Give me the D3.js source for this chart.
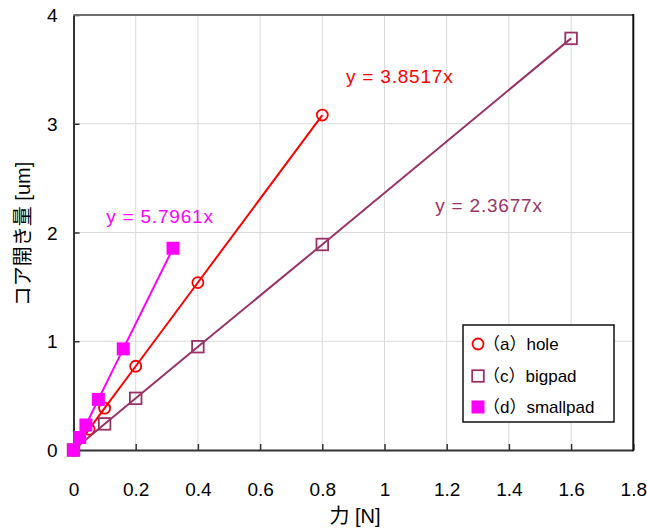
<!DOCTYPE html>
<html><head><meta charset="utf-8">
<script src="https://cdn.jsdelivr.net/npm/d3@7"></script>
<style>
html,body{margin:0;padding:0;background:#fff;}
svg text{font-family:"Liberation Sans","Noto Sans CJK JP",sans-serif;}
</style>
</head><body>
<svg id="chart" width="647" height="529"></svg>
<script>
// ---- data ----
const seriesNames = ["（a）hole", "（c）bigpad", "（d）smallpad"];
const holeX = [0, 0.05, 0.1, 0.2, 0.4, 0.8];
const holeY = [0, 0.19, 0.385, 0.77, 1.54, 3.08];
const bigpadX = [0, 0.1, 0.2, 0.4, 0.8, 1.6];
const bigpadY = [0, 0.24, 0.475, 0.95, 1.89, 3.785];
const smallpadX = [0, 0.02, 0.04, 0.08, 0.16, 0.32];
const smallpadY = [0, 0.115, 0.23, 0.465, 0.93, 1.855];
const equations = ["y = 3.8517x", "y = 2.3677x", "y = 5.7961x"];
const xTicks = [0, 0.2, 0.4, 0.6, 0.8, 1, 1.2, 1.4, 1.6, 1.8];
const xTickLabels = ["0", "0.2", "0.4", "0.6", "0.8", "1", "1.2", "1.4", "1.6", "1.8"];
const yTicks = [0, 1, 2, 3, 4];
const yTickLabels = ["0", "1", "2", "3", "4"];
const xTitle = "力 [N]";
const yTitle = "コア開き量 [um]";

// ---- layout ----
const svg = d3.select("#chart");
const L = 73.5, R = 633.3, T = 15, B = 450;
const x = d3.scaleLinear().domain([0, 1.8]).range([L, R]);
const y = d3.scaleLinear().domain([0, 4]).range([B, T]);

const colors = ["#FF0000", "#993366", "#FF00FF"];

// gridlines
svg.append("g").selectAll("line").data(xTicks.slice(1, -1)).join("line")
  .attr("x1", d => x(d)).attr("x2", d => x(d)).attr("y1", T).attr("y2", B)
  .attr("stroke", "#d9d9d9").attr("stroke-width", 1);
svg.append("g").selectAll("line").data(yTicks.slice(1, -1)).join("line")
  .attr("x1", L).attr("x2", R).attr("y1", d => y(d)).attr("y2", d => y(d))
  .attr("stroke", "#d9d9d9").attr("stroke-width", 1);

// axes with inward ticks
const xAxis = d3.axisBottom(x).tickValues(xTicks).tickSizeInner(-6).tickSizeOuter(0)
  .tickFormat((d, i) => xTickLabels[i]).tickPadding(30);
const gx = svg.append("g").attr("transform", `translate(0,${B})`).call(xAxis);
gx.select(".domain").attr("stroke", "#333").attr("stroke-width", 2);
gx.selectAll(".tick line").attr("stroke", "#333").attr("stroke-width", 1.5);
gx.selectAll(".tick text").attr("font-size", 19).attr("fill", "#000")
  .attr("font-family", "Liberation Sans").attr("dy", "0").attr("y", 46);

const yAxis = d3.axisLeft(y).tickValues(yTicks).tickSizeInner(-6).tickSizeOuter(0)
  .tickFormat((d, i) => yTickLabels[i]);
const gy = svg.append("g").attr("transform", `translate(${L},0)`).call(yAxis);
gy.select(".domain").attr("stroke", "#333").attr("stroke-width", 2);
gy.selectAll(".tick line").attr("stroke", "#333").attr("stroke-width", 1.5);
gy.selectAll(".tick text").attr("font-size", 19).attr("fill", "#000")
  .attr("font-family", "Liberation Sans").attr("x", -16).attr("dy", "0.35em");

// top & right border
svg.append("line").attr("x1", L).attr("x2", R).attr("y1", T).attr("y2", T)
  .attr("stroke", "#6e6e6e").attr("stroke-width", 2);
svg.append("line").attr("x1", R).attr("x2", R).attr("y1", T - 1).attr("y2", B + 1)
  .attr("stroke", "#111").attr("stroke-width", 2);

// series
const series = [
  {xs: holeX, ys: holeY, marker: "circle"},
  {xs: bigpadX, ys: bigpadY, marker: "square"},
  {xs: smallpadX, ys: smallpadY, marker: "filled"}
];
const line = d3.line().x(d => x(d[0])).y(d => y(d[1]));

function drawMarker(g, type, cx, cy, color) {
  if (type === "circle") {
    g.append("circle").attr("cx", cx).attr("cy", cy).attr("r", 5.5)
      .attr("fill", "none").attr("stroke", color).attr("stroke-width", 1.8);
  } else if (type === "square") {
    g.append("rect").attr("x", cx - 5.8).attr("y", cy - 5.8).attr("width", 11.6).attr("height", 11.6)
      .attr("fill", "none").attr("stroke", color).attr("stroke-width", 1.8);
  } else {
    g.append("rect").attr("x", cx - 6.5).attr("y", cy - 6.5).attr("width", 13).attr("height", 13)
      .attr("fill", color);
  }
}

series.forEach((s, i) => {
  const pts = s.xs.map((v, j) => [v, s.ys[j]]);
  const g = svg.append("g");
  g.append("path").attr("d", line(pts)).attr("fill", "none")
    .attr("stroke", colors[i]).attr("stroke-width", 2);
  pts.forEach(p => drawMarker(g, s.marker, x(p[0]), y(p[1]), colors[i]));
});

// equation labels
const eqPos = [[0.876, 3.376], [1.163, 2.186], [0.105, 2.088]];
equations.forEach((t, i) => {
  svg.append("text").attr("x", x(eqPos[i][0])).attr("y", y(eqPos[i][1]))
    .attr("font-size", 19).attr("letter-spacing", 0.8).attr("fill", colors[i]).text(t);
});

// legend
const lg = svg.append("g");
lg.append("rect").attr("x", 463).attr("y", 325).attr("width", 151).attr("height", 97)
  .attr("fill", "#fff").attr("stroke", "#111").attr("stroke-width", 1.5);
const rowY = [344, 376, 407];
series.forEach((s, i) => {
  drawMarker(lg, s.marker, 478, rowY[i], colors[i]);
  lg.append("text").attr("x", 483).attr("y", rowY[i]).attr("dy", "0.36em")
    .attr("font-size", 17).attr("fill", "#000").text(seriesNames[i]);
});

// axis titles
svg.append("text").attr("x", 355).attr("y", 523).attr("text-anchor", "middle")
  .attr("font-size", 20).attr("fill", "#000").text(xTitle);
svg.append("text").attr("transform", "translate(30,234) rotate(-90)").attr("text-anchor", "middle")
  .attr("font-size", 20).attr("fill", "#000").text(yTitle);
</script>
</body></html>
